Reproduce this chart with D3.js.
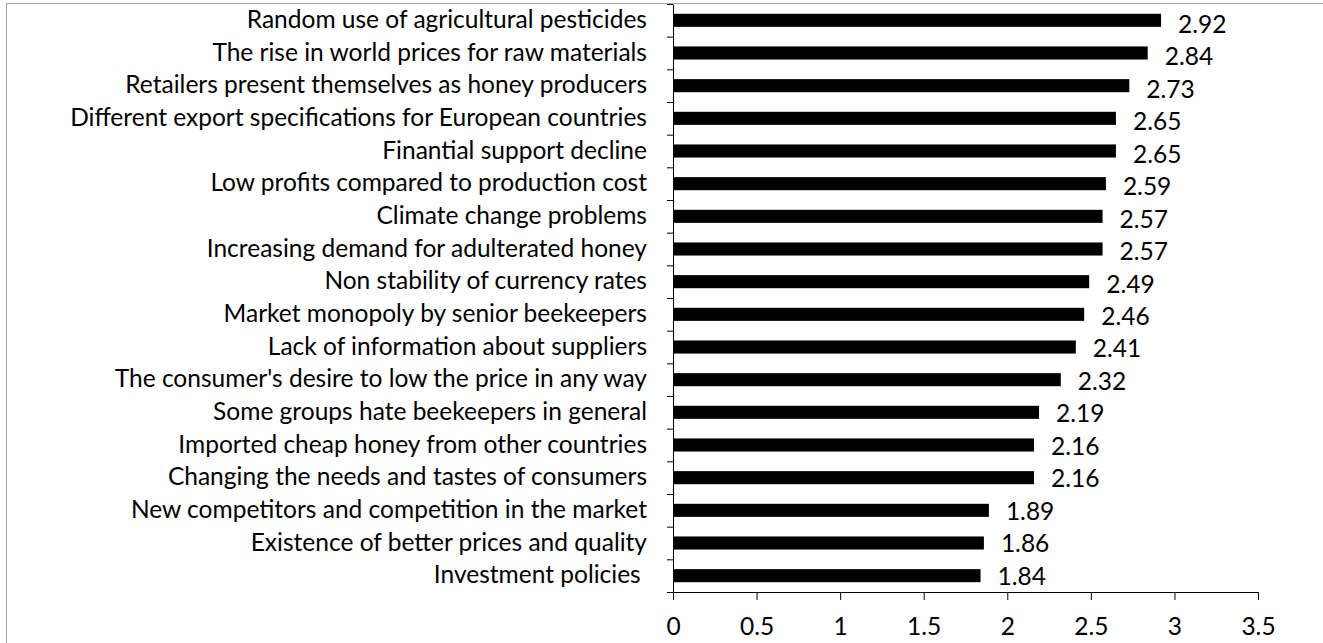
<!DOCTYPE html>
<html>
<head>
<meta charset="utf-8">
<script src="https://cdn.jsdelivr.net/npm/d3@7"></script>
<style>
  html, body { margin: 0; padding: 0; background: #fff; }
  svg { display: block; }
  text { font-family: Lato, "Open Sans", sans-serif; fill: #000; }
</style>
</head>
<body>
<svg id="chart" width="1323" height="643"></svg>
<script>
const categories = [
  "Random use of agricultural pesticides",
  "The rise in world prices for raw materials",
  "Retailers present themselves as honey producers",
  "Different export specifications for European countries",
  "Finantial support decline",
  "Low profits compared to production cost",
  "Climate change problems",
  "Increasing demand for adulterated honey",
  "Non stability of currency rates",
  "Market monopoly by senior beekeepers",
  "Lack of information about suppliers",
  "The consumer's desire to low the price in any way",
  "Some groups hate beekeepers in general",
  "Imported cheap honey from other countries",
  "Changing the needs and tastes of consumers",
  "New competitors and competition in the market",
  "Existence of better prices and quality",
  "Investment policies "
];
const values = [2.92, 2.84, 2.73, 2.65, 2.65, 2.59, 2.57, 2.57, 2.49, 2.46, 2.41, 2.32, 2.19, 2.16, 2.16, 1.89, 1.86, 1.84];
const valueLabels = ["2.92", "2.84", "2.73", "2.65", "2.65", "2.59", "2.57", "2.57", "2.49", "2.46", "2.41", "2.32", "2.19", "2.16", "2.16", "1.89", "1.86", "1.84"];
const xTicks = [0, 0.5, 1, 1.5, 2, 2.5, 3, 3.5];
const xTickLabels = ["0", "0.5", "1", "1.5", "2", "2.5", "3", "3.5"];

(function () {
const svg = d3.select("#chart");

// chart border (partially cut off on the right and bottom)
svg.append("rect")
  .attr("x", 6.5).attr("y", 3.5)
  .attr("width", 1400).attr("height", 700)
  .attr("fill", "none").attr("stroke", "#a6a6a6").attr("stroke-width", 1);

const plotLeft = 673, plotRight = 1258, plotTop = 4, plotBottom = 592;

const x = d3.scaleLinear().domain([0, 3.5]).range([plotLeft, plotRight]);
const y = d3.scaleBand().domain(categories).range([plotTop, plotBottom]).paddingInner(0.6).paddingOuter(0.3);

// fit font size to reference label width
const probe = svg.append("text").attr("font-size", 20).text(categories[3]);
const w = probe.node().getComputedTextLength();
probe.remove();
const fs = 20 * 577 / w;

// bars
svg.append("g").selectAll("rect").data(values).join("rect")
  .attr("x", x(0))
  .attr("y", (d, i) => y(categories[i]))
  .attr("width", d => x(d) - x(0))
  .attr("height", y.bandwidth())
  .attr("fill", "#000");

// category labels
svg.append("g").selectAll("text").data(categories).join("text")
  .attr("x", plotLeft - 26)
  .attr("y", d => y(d) + y.bandwidth() / 2 + 7.5)
  .attr("text-anchor", "end")
  .attr("font-size", fs)
  .style("white-space", "pre")
  .text(d => d);

// value labels
const n = categories.length;
svg.append("g").selectAll("text").data(values).join("text")
  .attr("x", d => x(d) + 17)
  .attr("y", (d, i) => y(categories[i]) + y.bandwidth() / 2 + 12.5 - 3.5 * i / (n - 1))
  .attr("font-size", fs)
  .text((d, i) => valueLabels[i]);

// y axis with boundary ticks
const yb = d3.scaleLinear().domain([0, n]).range([plotTop, plotBottom]);
const yAxis = svg.append("g")
  .attr("transform", `translate(${plotLeft},0)`)
  .call(d3.axisLeft(yb).tickValues(d3.range(n + 1)).tickSize(6).tickSizeOuter(0).tickFormat(""));
yAxis.selectAll("line").attr("stroke", "#000");
yAxis.select(".domain").attr("stroke", "#000");

// x axis
const xAxis = svg.append("g")
  .attr("transform", `translate(0,${plotBottom})`)
  .call(d3.axisBottom(x).tickValues(xTicks).tickSize(8).tickSizeOuter(0)
    .tickFormat((d, i) => xTickLabels[i]));
xAxis.select(".domain").attr("stroke", "#000");
xAxis.selectAll("line").attr("stroke", "#000");
xAxis.selectAll("text")
  .attr("y", 43).attr("dy", null)
  .attr("font-size", fs)
  .attr("font-family", "Lato, 'Open Sans', sans-serif")
  .attr("fill", "#000");
})();
</script>
</body>
</html>
